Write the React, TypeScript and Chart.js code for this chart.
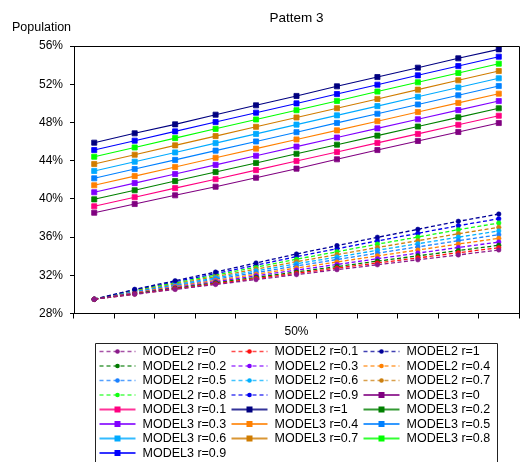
import React, { useEffect, useRef } from 'react';
import { Chart, registerables } from 'chart.js';

Chart.register(...registerables);

const FONT = "'Liberation Sans', Arial, sans-serif";

const categories = ['0%', '10%', '20%', '30%', '40%', '50%', '60%', '70%', '80%', '90%', '100%'];
const shownCategory = '50%';
const chartTitle = 'Pattem 3';
const yAxisTitle = 'Population';
const yMin = 28;
const yMax = 56;
const yStep = 4;

// MODEL2 (dashed, round markers)
const model2_r0 = [29.49, 30.01, 30.52, 31.04, 31.55, 32.07, 32.59, 33.1, 33.62, 34.13, 34.65];
const model2_r01 = [29.49, 30.04, 30.58, 31.12, 31.66, 32.21, 32.75, 33.29, 33.82, 34.36, 34.89];
const model2_r1 = [29.49, 30.53, 31.43, 32.34, 33.29, 34.23, 35.1, 35.98, 36.81, 37.65, 38.41];
const model2_r02 = [29.49, 30.07, 30.64, 31.21, 31.78, 32.35, 32.91, 33.48, 34.03, 34.59, 35.14];
const model2_r03 = [29.49, 30.12, 30.72, 31.33, 31.94, 32.55, 33.13, 33.73, 34.32, 34.91, 35.48];
const model2_r04 = [29.49, 30.17, 30.82, 31.45, 32.11, 32.76, 33.39, 34.03, 34.64, 35.27, 35.87];
const model2_r05 = [29.49, 30.23, 30.9, 31.59, 32.28, 32.98, 33.65, 34.32, 34.97, 35.62, 36.25];
const model2_r06 = [29.49, 30.28, 31.0, 31.73, 32.46, 33.21, 33.9, 34.62, 35.3, 35.99, 36.64];
const model2_r07 = [29.49, 30.33, 31.09, 31.86, 32.64, 33.43, 34.16, 34.91, 35.62, 36.35, 37.02];
const model2_r08 = [29.49, 30.4, 31.2, 32.01, 32.85, 33.68, 34.46, 35.26, 36.0, 36.77, 37.47];
const model2_r09 = [29.49, 30.46, 31.32, 32.17, 33.06, 33.95, 34.77, 35.6, 36.39, 37.19, 37.92];

// MODEL3 (solid, square markers)
const model3_r0 = [38.55, 39.46, 40.37, 41.27, 42.21, 43.16, 44.14, 45.11, 46.06, 47.0, 47.94];
const model3_r01 = [39.22, 40.17, 41.12, 42.06, 43.01, 43.96, 44.91, 45.86, 46.8, 47.75, 48.7];
const model3_r1 = [45.88, 46.86, 47.8, 48.81, 49.79, 50.77, 51.78, 52.75, 53.73, 54.71, 55.65];
const model3_r02 = [39.95, 40.9, 41.86, 42.81, 43.76, 44.72, 45.67, 46.62, 47.57, 48.53, 49.48];
const model3_r03 = [40.69, 41.65, 42.6, 43.56, 44.51, 45.47, 46.42, 47.38, 48.33, 49.29, 50.24];
const model3_r04 = [41.42, 42.38, 43.34, 44.3, 45.26, 46.22, 47.17, 48.13, 49.09, 50.05, 51.01];
const model3_r05 = [42.15, 43.12, 44.08, 45.05, 46.01, 46.98, 47.95, 48.91, 49.88, 50.84, 51.81];
const model3_r06 = [42.92, 43.89, 44.86, 45.83, 46.8, 47.77, 48.74, 49.71, 50.68, 51.65, 52.62];
const model3_r07 = [43.65, 44.62, 45.6, 46.57, 47.54, 48.52, 49.49, 50.46, 51.43, 52.41, 53.38];
const model3_r08 = [44.41, 45.38, 46.36, 47.33, 48.31, 49.28, 50.25, 51.23, 52.2, 53.18, 54.15];
const model3_r09 = [45.11, 46.09, 47.06, 48.04, 49.02, 49.99, 50.97, 51.95, 52.93, 53.9, 54.88];

const model2Labels = ['MODEL2 r=0', 'MODEL2 r=0.1', 'MODEL2 r=1', 'MODEL2 r=0.2', 'MODEL2 r=0.3', 'MODEL2 r=0.4', 'MODEL2 r=0.5', 'MODEL2 r=0.6', 'MODEL2 r=0.7', 'MODEL2 r=0.8', 'MODEL2 r=0.9'];
const model2Series = [model2_r0, model2_r01, model2_r1, model2_r02, model2_r03, model2_r04, model2_r05, model2_r06, model2_r07, model2_r08, model2_r09];
const model2Colors = ['#8a1a8a', '#ff1010', '#000099', '#007a00', '#8000ff', '#ff8000', '#1a80ff', '#00b0ff', '#cc8010', '#10ff10', '#0000ee'];

const model3Labels = ['MODEL3 r=0', 'MODEL3 r=0.1', 'MODEL3 r=1', 'MODEL3 r=0.2', 'MODEL3 r=0.3', 'MODEL3 r=0.4', 'MODEL3 r=0.5', 'MODEL3 r=0.6', 'MODEL3 r=0.7', 'MODEL3 r=0.8', 'MODEL3 r=0.9'];
const model3Series = [model3_r0, model3_r01, model3_r1, model3_r02, model3_r03, model3_r04, model3_r05, model3_r06, model3_r07, model3_r08, model3_r09];
const model3Colors = ['#800080', '#ff0080', '#000080', '#008000', '#8000ff', '#ff8000', '#0080ff', '#00aaff', '#d07c00', '#00ff00', '#0000ff'];

const frameAndTextPlugin = {
  id: 'frameAndText',
  afterDraw(chart: any) {
    const { ctx, chartArea } = chart;
    ctx.save();
    // plot frame (top & right)
    ctx.strokeStyle = '#000';
    ctx.lineWidth = 1;
    ctx.setLineDash([]);
    ctx.beginPath();
    ctx.moveTo(chartArea.left, chartArea.top + 0.5);
    ctx.lineTo(chartArea.right + 0.5, chartArea.top + 0.5);
    ctx.lineTo(chartArea.right + 0.5, chartArea.bottom);
    ctx.stroke();

    // y axis heading
    ctx.fillStyle = '#000';
    ctx.font = `12.5px ${FONT}`;
    ctx.textAlign = 'left';
    ctx.textBaseline = 'alphabetic';
    ctx.fillText(yAxisTitle, 12, 30.5);

    // legend box
    const boxLeft = 95.5;
    const boxTop = 343.5;
    const boxRight = 497.5;
    ctx.strokeStyle = '#222';
    ctx.beginPath();
    ctx.moveTo(boxLeft, chart.height + 2);
    ctx.lineTo(boxLeft, boxTop);
    ctx.lineTo(boxRight, boxTop);
    ctx.lineTo(boxRight, chart.height + 2);
    ctx.stroke();

    const datasets = chart.data.datasets;
    datasets.forEach((ds: any, i: number) => {
      const col = i % 3;
      const row = Math.floor(i / 3);
      const textX = 142.5 + col * 132;
      const y = 351.5 + row * 14.5;
      const x0 = textX - 43;
      const x1 = textX - 7;
      const cx = (x0 + x1) / 2;
      const dashed = ds.borderDash && ds.borderDash.length > 0;
      ctx.save();
      ctx.strokeStyle = ds.borderColor;
      ctx.lineWidth = dashed ? 1.3 : 2;
      ctx.globalAlpha = dashed ? 0.75 : 0.8;
      ctx.setLineDash(dashed ? [4, 3] : []);
      ctx.beginPath();
      ctx.moveTo(x0, y);
      ctx.lineTo(x1, y);
      ctx.stroke();
      ctx.restore();
      ctx.fillStyle = ds.pointBackgroundColor;
      if (dashed) {
        ctx.beginPath();
        ctx.arc(cx, y, 2.3, 0, Math.PI * 2);
        ctx.fill();
      } else {
        ctx.fillRect(cx - 3, y - 3, 6, 6);
      }
      ctx.fillStyle = '#000';
      ctx.font = `12.5px ${FONT}`;
      ctx.textAlign = 'left';
      ctx.textBaseline = 'middle';
      ctx.fillText(ds.label, textX, y + 0.5);
    });
    ctx.restore();
  },
};

export default function App() {
  const canvasRef = useRef<HTMLCanvasElement | null>(null);

  useEffect(() => {
    document.body.style.margin = '0';
    const canvas = canvasRef.current;
    if (!canvas) return;

    const datasets: any[] = [];
    model2Series.forEach((data, i) => {
      datasets.push({
        label: model2Labels[i],
        data,
        borderColor: model2Colors[i],
        backgroundColor: model2Colors[i],
        pointBackgroundColor: model2Colors[i],
        pointBorderColor: model2Colors[i],
        borderWidth: 1.3,
        borderDash: [4, 2.5],
        pointStyle: 'circle',
        pointRadius: 2.3,
        pointBorderWidth: 0.5,
        tension: 0,
        fill: false,
      });
    });
    model3Series.forEach((data, i) => {
      datasets.push({
        label: model3Labels[i],
        data,
        borderColor: model3Colors[i],
        backgroundColor: model3Colors[i],
        pointBackgroundColor: model3Colors[i],
        pointBorderColor: model3Colors[i],
        borderWidth: 1.1,
        borderDash: [],
        pointStyle: 'rect',
        pointRadius: 3.6,
        pointBorderWidth: 0.8,
        tension: 0,
        fill: false,
      });
    });

    const chart = new Chart(canvas, {
      type: 'line',
      data: { labels: categories, datasets },
      options: {
        animation: false,
        responsive: false,
        maintainAspectRatio: false,
        layout: { padding: { left: 0, right: 7, top: 0, bottom: 118.5 } },
        plugins: {
          legend: { display: false },
          tooltip: { enabled: false },
          title: {
            display: true,
            text: chartTitle,
            fullSize: false,
            color: '#000',
            font: { family: FONT, size: 13.5, weight: 'normal' },
            padding: { top: 10.4, bottom: 19.4 },
          },
        },
        scales: {
          x: {
            type: 'category',
            offset: true,
            grid: {
              offset: true,
              drawOnChartArea: false,
              drawTicks: true,
              tickLength: 5,
              tickColor: '#000',
              color: '#000',
            },
            border: { display: true, color: '#000', width: 1 },
            ticks: {
              autoSkip: false,
              maxRotation: 0,
              padding: 6,
              color: '#000',
              font: { family: FONT, size: 12 },
              callback: (value: any, index: number) => (categories[index] === shownCategory ? categories[index] : ''),
            },
            afterFit: (scale: any) => {
              scale.height = 30;
            },
          },
          y: {
            min: yMin,
            max: yMax,
            grid: {
              drawOnChartArea: false,
              drawTicks: true,
              tickLength: 4,
              tickColor: '#000',
              color: '#000',
            },
            border: { display: true, color: '#000', width: 1 },
            ticks: {
              stepSize: yStep,
              padding: 7,
              color: '#000',
              font: { family: FONT, size: 12 },
              callback: (value: any) => `${value}%`,
            },
            afterFit: (scale: any) => {
              scale.width = 74;
            },
          },
        },
      },
      plugins: [frameAndTextPlugin],
    });

    return () => {
      chart.destroy();
    };
  }, []);

  return (
    <div style={{ position: 'absolute', left: 0, top: 0, width: 526, height: 462, background: '#fff' }}>
      <canvas ref={canvasRef} width={526} height={462} style={{ display: 'block', width: 526, height: 462 }} />
    </div>
  );
}
